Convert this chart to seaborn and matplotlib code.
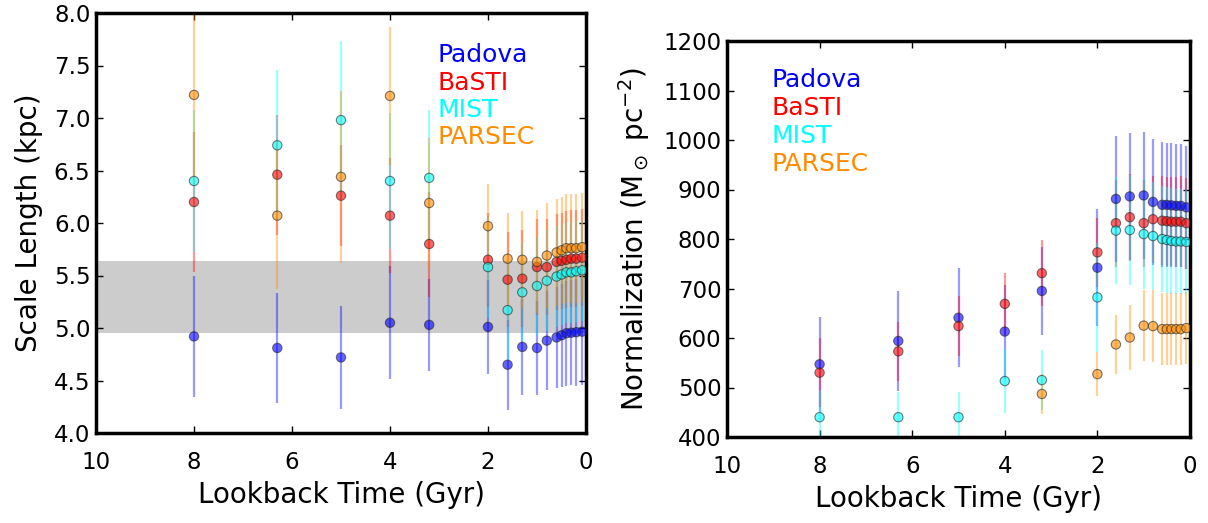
import numpy as np
import pandas as pd
import matplotlib
matplotlib.use("Agg")
import matplotlib.pyplot as plt
import seaborn as sns

# ---------------- data ----------------
times = [8.0, 6.3, 5.0, 4.0, 3.2, 2.0, 1.6, 1.3, 1.0, 0.8, 0.6, 0.5, 0.4, 0.3, 0.2, 0.08]
models = ["Padova", "BaSTI", "MIST", "PARSEC"]
colors = ["blue", "red", "cyan", "darkorange"]

# Scale length (kpc)
scale_padova = [4.92, 4.81, 4.72, 5.05, 5.03, 5.01, 4.65, 4.82, 4.81, 4.88, 4.91, 4.93, 4.95, 4.955, 4.96, 4.965]
scale_basti = [6.20, 6.46, 6.26, 6.07, 5.80, 5.65, 5.46, 5.47, 5.58, 5.58, 5.63, 5.64, 5.65, 5.66, 5.66, 5.67]
scale_mist = [6.40, 6.74, 6.98, 6.40, 6.43, 5.58, 5.17, 5.34, 5.40, 5.45, 5.49, 5.51, 5.53, 5.53, 5.54, 5.55]
scale_parsec = [7.22, 6.07, 6.44, 7.21, 6.19, 5.97, 5.66, 5.65, 5.63, 5.69, 5.72, 5.74, 5.76, 5.76, 5.76, 5.77]

scale_err_padova = [0.58, 0.52, 0.49, 0.54, 0.44, 0.45, 0.43, 0.46, 0.45, 0.47, 0.48, 0.49, 0.50, 0.50, 0.51, 0.51]
scale_err_basti = [0.67, 0.57, 0.48, 0.55, 0.50, 0.45, 0.45, 0.46, 0.46, 0.46, 0.46, 0.46, 0.46, 0.46, 0.46, 0.46]
scale_err_mist = [0.68, 0.72, 0.75, 0.65, 0.65, 0.48, 0.47, 0.47, 0.47, 0.48, 0.48, 0.48, 0.48, 0.48, 0.48, 0.48]
scale_err_parsec = [0.85, 0.70, 0.82, 0.66, 0.62, 0.40, 0.44, 0.46, 0.49, 0.50, 0.51, 0.51, 0.52, 0.52, 0.52, 0.52]

band_low, band_high = 4.955, 5.64

# Normalization (Msun pc^-2)
norm_padova = [547, 594, 641, 613, 695, 742, 881, 886, 888, 875, 869, 869, 868, 867, 867, 864]
norm_basti = [530, 573, 624, 669, 731, 773, 832, 844, 832, 840, 837, 836, 835, 835, 835, 832]
norm_mist = [440, 440, 440, 513, 515, 682, 817, 818, 810, 806, 800, 798, 796, 795, 795, 794]
norm_parsec = [np.nan, np.nan, np.nan, np.nan, 487, 527, 587, 601, 625, 624, 618, 618, 618, 618, 618, 620]

norm_err_padova = [96, 101, 100, 95, 88, 118, 128, 128, 128, 127, 126, 125, 125, 124, 124, 124]
norm_err_basti = [70, 60, 61, 62, 66, 70, 88, 88, 88, 88, 90, 90, 90, 91, 92, 92]
norm_err_mist = [55, 51, 50, 64, 60, 110, 108, 111, 112, 110, 108, 108, 107, 107, 106, 106]
norm_err_parsec = [np.nan, np.nan, np.nan, np.nan, 40, 45, 59, 65, 71, 72, 72, 72, 73, 73, 73, 73]

scale_vals = [scale_padova, scale_basti, scale_mist, scale_parsec]
scale_errs = [scale_err_padova, scale_err_basti, scale_err_mist, scale_err_parsec]
norm_vals = [norm_padova, norm_basti, norm_mist, norm_parsec]
norm_errs = [norm_err_padova, norm_err_basti, norm_err_mist, norm_err_parsec]

rows = []
for m, sv, se, nv, ne in zip(models, scale_vals, scale_errs, norm_vals, norm_errs):
    for i, t in enumerate(times):
        rows.append(dict(model=m, time=t, scale=sv[i], scale_err=se[i], norm=nv[i], norm_err=ne[i]))
df = pd.DataFrame(rows)
palette = dict(zip(models, colors))

# ---------------- style ----------------
sns.set_style("ticks")
plt.rcParams.update({
    "font.family": ["DejaVu Sans"],
    "text.color": "black", "axes.labelcolor": "black",
    "xtick.direction": "in", "ytick.direction": "in",
    "xtick.top": True, "ytick.right": True,
    "xtick.major.size": 5, "ytick.major.size": 5,
    "xtick.major.width": 1, "ytick.major.width": 1,
    "xtick.color": "black", "ytick.color": "black",
    "xtick.labelcolor": "black", "ytick.labelcolor": "black",
    "axes.edgecolor": "black", "axes.linewidth": 2.5,
    "mathtext.default": "regular",
})

W, H = 1208, 523
fig = plt.figure(figsize=(W / 100, H / 100), dpi=100)
ax1 = fig.add_axes([96 / W, (H - 433) / H, 490 / W, 420 / H])
ax2 = fig.add_axes([727 / W, (H - 437) / H, 463 / W, 396 / H])


def draw(ax, col, ecol):
    for m, c in zip(models, colors):
        sub = df[df.model == m]
        ax.errorbar(sub["time"], sub[col], yerr=sub[ecol], fmt="none",
                    ecolor=c, elinewidth=1.6, alpha=0.4, capsize=0, zorder=2)
    sns.scatterplot(data=df, x="time", y=col, hue="model", palette=palette,
                    hue_order=models, s=45, alpha=0.6, edgecolor="0.15",
                    linewidth=0.8, legend=False, ax=ax, zorder=3)


# Left panel
ax1.axhspan(band_low, band_high, color="0.8", lw=0, zorder=0)
draw(ax1, "scale", "scale_err")
ax1.set_xlim(10, 0)
ax1.set_ylim(4.0, 8.0)
ax1.set_xticks([10, 8, 6, 4, 2, 0])
ax1.set_yticks(np.arange(4.0, 8.01, 0.5))
ax1.set_yticklabels([f"{v:.1f}" for v in np.arange(4.0, 8.01, 0.5)])
ax1.set_xlabel("Lookback Time (Gyr)", fontsize=20, labelpad=5)
ax1.set_ylabel("Scale Length (kpc)", fontsize=20, labelpad=8)

# Right panel
draw(ax2, "norm", "norm_err")
ax2.set_xlim(10, 0)
ax2.set_ylim(400, 1200)
ax2.set_xticks([10, 8, 6, 4, 2, 0])
ax2.set_yticks(np.arange(400, 1201, 100))
ax2.set_xlabel("Lookback Time (Gyr)", fontsize=20, labelpad=5)
ax2.set_ylabel(r"Normalization (M$_\odot$ pc$^{-2}$)", fontsize=20, labelpad=8)

for ax in (ax1, ax2):
    ax.tick_params(axis="x", labelsize=16.5, pad=13, colors="black")
    ax.tick_params(axis="y", labelsize=16.5, pad=4, colors="black")
    for s in ax.spines.values():
        s.set_visible(True)
        s.set_linewidth(2.5)
        s.set_color("black")

# Text legends
for i, (m, c) in enumerate(zip(models, colors)):
    ax1.text(437 / W, (H - 62 - 27.5 * i) / H, m, color=c, fontsize=18,
             transform=fig.transFigure, va="baseline", ha="left")
    ax2.text(772 / W, (H - 87 - 28 * i) / H, m, color=c, fontsize=18,
             transform=fig.transFigure, va="baseline", ha="left")

fig.savefig("out.png", dpi=100)
